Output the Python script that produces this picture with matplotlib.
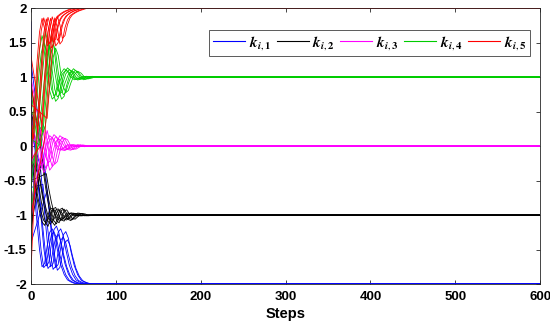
import numpy as np
import matplotlib
matplotlib.use("Agg")
import matplotlib.pyplot as plt
from matplotlib.lines import Line2D

# prototype transients (steps relative to each agent's lag)
steps_rel = [0, 3, 6, 9, 12, 15, 18, 21, 24, 27, 30, 34, 38, 42, 46, 50, 55, 60, 65, 70, 600]

k1_proto = [-0.3, -0.7, -1.1, -1.5, -1.75, -1.7, -1.45, -1.25, -1.2, -1.3, -1.5,
            -1.72, -1.86, -1.94, -1.97, -1.99, -2.0, -2.0, -2.0, -2.0, -2.0]
k2_proto = [-0.2, -0.5, -0.75, -0.95, -1.1, -1.15, -1.05, -0.92, -0.9, -0.97, -1.06,
            -1.08, -1.02, -0.97, -0.98, -1.01, -1.01, -1.0, -1.0, -1.0, -1.0]
k3_proto = [0.3, 0.1, -0.2, -0.35, -0.3, -0.1, 0.08, 0.15, 0.12, 0.03, -0.05,
            -0.06, -0.02, 0.02, 0.01, -0.01, 0.0, 0.0, 0.0, 0.0, 0.0]
k4_proto = [0.0, 0.5, 1.0, 1.4, 1.6, 1.45, 1.1, 0.8, 0.68, 0.72, 0.88,
            1.05, 1.12, 1.08, 1.0, 0.96, 0.98, 1.01, 1.0, 1.0, 1.0]
k5_proto = [0.0, 0.6, 1.2, 1.65, 1.85, 1.7, 1.45, 1.5, 1.7, 1.82, 1.88,
            1.92, 1.95, 1.97, 1.99, 2.0, 2.0, 2.0, 2.0, 2.0, 2.0]

# per-agent delays, initial values and transient amplitude
k1_lags = [1, 3, 6, 8, 11, 14, 17, 19]
k1_init = [1.8, -0.4, 0.5, -1.0, 0.2, -0.6, 1.2, -1.4]
k1_gain = [1.0, 0.95, 1.05, 0.9, 1.0, 0.85, 0.95, 0.8]
k2_lags = [1, 3, 5, 8, 10, 13, 15, 18]
k2_init = [-0.8, 0.3, -1.5, 0.6, -0.2, -1.2, 0.9, -0.5]
k2_gain = [1.0, 0.8, 1.1, 0.9, 0.7, 1.0, 0.85, 0.75]
k3_lags = [1, 3, 6, 8, 11, 13, 16, 19]
k3_init = [0.2, -0.6, 0.5, -1.1, 1.0, -0.3, 0.7, -0.8]
k3_gain = [1.0, 0.8, 1.1, 0.9, 0.7, 1.0, 0.85, 0.75]
k4_lags = [1, 3, 5, 7, 10, 12, 14, 17]
k4_init = [-1.5, 0.3, -0.6, 0.8, -1.0, 0.1, 0.5, -0.3]
k4_gain = [1.0, 0.85, 1.1, 0.9, 0.75, 1.0, 0.8, 0.7]
k5_lags = [1, 3, 6, 8, 11, 13, 16, 19]
k5_init = [-0.5, 0.4, -1.8, 0.9, -0.2, 1.3, -1.0, 0.6]
k5_gain = [1.0, 0.95, 1.05, 0.9, 1.0, 0.85, 0.95, 0.8]

series = [
    (k1_proto, k1_lags, k1_init, k1_gain, "#0000ff", r"$\mathbfit{k}_{\mathbfit{i},\mathbf{1}}$"),
    (k2_proto, k2_lags, k2_init, k2_gain, "#000000", r"$\mathbfit{k}_{\mathbfit{i},\mathbf{2}}$"),
    (k3_proto, k3_lags, k3_init, k3_gain, "#ff00ff", r"$\mathbfit{k}_{\mathbfit{i},\mathbf{3}}$"),
    (k4_proto, k4_lags, k4_init, k4_gain, "#00cc00", r"$\mathbfit{k}_{\mathbfit{i},\mathbf{4}}$"),
    (k5_proto, k5_lags, k5_init, k5_gain, "#ff0000", r"$\mathbfit{k}_{\mathbfit{i},\mathbf{5}}$"),
]

plt.rcParams["mathtext.fontset"] = "stix"
plt.rcParams["font.family"] = ["Liberation Sans", "DejaVu Sans"]

fig = plt.figure(figsize=(5.5, 3.28), dpi=100)
ax = fig.add_axes([0.0564, 0.134, 0.9256, 0.8416])

srel = np.array(steps_rel, dtype=float)
handles = []
for proto, lags, init, gain, color, label in series:
    proto = np.array(proto)
    final = proto[-1]
    for lag, y0, g in zip(lags, init, gain):
        x = np.concatenate([[0], srel + lag])
        y = np.concatenate([[y0], final + g * (proto - final)])
        ax.plot(x, y, color=color, lw=0.6)
    handles.append(Line2D([], [], color=color, lw=0.8, label=label))

ax.set_xlim(0, 600)
ax.set_ylim(-2, 2)
ax.set_xticks(np.arange(0, 601, 100))
ax.set_yticks(np.arange(-2, 2.01, 0.5))
ax.set_yticklabels(["-2", "-1.5", "-1", "-0.5", "0", "0.5", "1", "1.5", "2"])
ax.tick_params(direction="in", top=True, right=True, length=3, width=0.6,
               labelsize=9.5, color="#262626")
ax.tick_params(axis="x", pad=5)
ax.tick_params(axis="y", pad=3)
for lab in ax.get_xticklabels() + ax.get_yticklabels():
    lab.set_fontweight("bold")
for sp in ax.spines.values():
    sp.set_linewidth(0.6)
    sp.set_color("#262626")
ax.set_xlabel("Steps", fontsize=10.5, fontweight="bold", labelpad=3)

leg = ax.legend(handles=handles, loc="upper right", bbox_to_anchor=(0.98, 0.92),
                ncol=5, fancybox=False, framealpha=1, edgecolor="#404040",
                fontsize=11, handlelength=2.1, handletextpad=0.25,
                columnspacing=0.35, borderpad=0.25, borderaxespad=0)
leg.get_frame().set_linewidth(0.6)

fig.savefig("out.png", dpi=100)
